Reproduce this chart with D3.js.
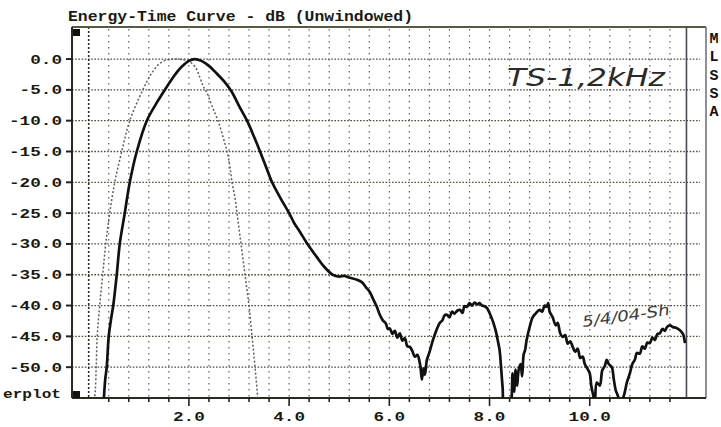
<!DOCTYPE html>
<html>
<head>
<meta charset="utf-8">
<script src="https://cdn.jsdelivr.net/npm/d3@7"></script>
<style>
  body { margin: 0; background: #fff; }
  svg { display: block; }
</style>
</head>
<body>
<svg></svg>
<script>
const width = 721;
const height = 427;
let svg = d3.select("svg").attr("width", width).attr("height", height);

// measured ETC (solid) and the reference impulse (dotted) : [time ms, dB]
const etcCurve = [
  [0.30,-55.5],[0.33,-52],[0.36,-50],[0.40,-45],[0.45,-42],[0.49,-40],[0.56,-35],[0.62,-30],
  [0.72,-25],[0.82,-20],[0.96,-15],[1.16,-10],[1.35,-7.2],[1.52,-5],[1.70,-2.8],[1.85,-1.3],
  [2.0,-0.3],[2.12,0],[2.25,-0.3],[2.4,-1.1],[2.55,-2.3],[2.7,-3.6],[2.86,-5.4],[3.0,-7.6],
  [3.16,-10],[3.3,-12.6],[3.42,-15],[3.54,-17.5],[3.66,-20],[3.83,-22.6],[4.0,-25],[4.1,-26.6],
  [4.22,-28.1],[4.35,-29.8],[4.55,-32.1],[4.7,-33.7],[4.87,-35.0],[5.0,-35.3],[5.1,-35.2],
  [5.21,-35.5],[5.35,-35.8],[5.45,-36.2],[5.53,-37],[5.61,-37.8],[5.68,-39],[5.75,-40.2],
  [5.81,-41.5],[5.87,-42.4],[5.93,-42.9],[5.97,-43.8],[6.01,-43.7],[6.06,-44.6],[6.11,-44.1],
  [6.16,-45.2],[6.21,-44.5],[6.26,-45.7],[6.31,-45.3],[6.36,-46.6],[6.41,-46.7],[6.46,-47.4],
  [6.51,-48.3],[6.56,-48.0],[6.61,-49.4],[6.63,-50.6],[6.65,-52],[6.68,-50.2],[6.71,-51.2],
  [6.75,-48.8],[6.80,-47.6],[6.87,-45.6],[6.94,-44.0],[7.01,-42.8],[7.06,-42.4],[7.10,-41.6],
  [7.15,-41.5],[7.2,-41.9],[7.25,-41.0],[7.3,-41.3],[7.36,-40.8],[7.41,-40.7],[7.46,-41.2],
  [7.5,-40.1],[7.55,-40.2],[7.6,-39.6],[7.65,-40.0],[7.7,-39.5],[7.75,-39.8],[7.8,-39.6],
  [7.85,-40.0],[7.9,-40.1],[7.95,-40.4],[8.0,-41.2],[8.06,-42.4],[8.12,-44.0],[8.16,-45.5],
  [8.20,-47.2],[8.23,-50],[8.26,-53.2],[8.30,-56.5],[8.40,-57],[8.44,-55],[8.46,-51],[8.49,-54],
  [8.52,-50.4],[8.55,-53],[8.58,-50.5],[8.62,-49.5],[8.65,-51.5],[8.68,-48],[8.71,-47.2],
  [8.74,-45.6],[8.8,-43.5],[8.86,-41.9],[8.92,-41.3],[9.0,-40.7],[9.05,-41.0],[9.1,-40.0],
  [9.14,-40.2],[9.17,-39.6],[9.2,-41.0],[9.26,-41.9],[9.32,-43.2],[9.36,-42.8],[9.41,-44.5],
  [9.46,-45.1],[9.51,-44.8],[9.56,-46.2],[9.61,-45.8],[9.66,-46.7],[9.71,-47.5],[9.76,-47.0],
  [9.81,-48.5],[9.86,-48.3],[9.9,-49.5],[9.95,-50.2],[10.0,-51],[10.03,-53],[10.06,-54.2],
  [10.1,-55.5],[10.14,-52.5],[10.2,-53],[10.25,-50.5],[10.3,-49.8],[10.34,-48.8],[10.38,-49.5],
  [10.44,-50],[10.48,-52],[10.52,-53.8],[10.54,-54.2],[10.6,-55.2],[10.66,-55],[10.7,-54],
  [10.74,-52.5],[10.8,-51],[10.85,-49.5],[10.9,-48.8],[10.94,-47.7],[11.0,-47.8],[11.05,-46.6],
  [11.1,-47.0],[11.15,-46.0],[11.2,-46.1],[11.25,-45.2],[11.3,-45.6],[11.35,-44.6],[11.4,-44.5],
  [11.45,-43.8],[11.5,-44.1],[11.54,-43.5],[11.6,-43.2],[11.66,-43.5],[11.72,-43.6],[11.8,-44],
  [11.86,-44.6],[11.90,-46.1]
];

const refCurve = [
  [0.10,-56],[0.13,-54],[0.15,-50],[0.17,-45],[0.22,-40],[0.28,-35],[0.34,-30],[0.42,-25],
  [0.52,-20],[0.66,-15],[0.82,-10],[1.08,-5],[1.25,-2.4],[1.42,-0.7],[1.58,-0.1],[1.72,0],
  [1.88,-0.1],[1.98,-0.3],[2.12,-1.2],[2.22,-3],[2.28,-4.3],[2.36,-5.5],[2.47,-7.8],[2.58,-10],
  [2.68,-12.6],[2.76,-15],[2.82,-17.5],[2.86,-20],[2.92,-22.5],[2.96,-25],[3.0,-27.5],
  [3.04,-30],[3.08,-32.5],[3.12,-35],[3.16,-37.5],[3.20,-40],[3.26,-45],[3.32,-50],[3.38,-55.5]
];

const yTicks = [0, -5, -10, -15, -20, -25, -30, -35, -40, -45, -50];
const xLabels = [2, 4, 6, 8, 10];
const xGrid = d3.range(1, 30).map(i => +(i * 0.4).toFixed(1));
const sideLetters = ["M", "L", "S", "S", "A"];

const plotLeft = 72, plotRight = 706, plotTop = 27, plotBottom = 398;
const x = d3.scaleLinear().domain([-0.333, 12.32]).range([plotLeft, plotRight]);
const y = d3.scaleLinear().domain([-55, 5.2]).range([plotBottom, plotTop]);
const plotEnd = x(11.93);

const mono = "'Liberation Mono', 'DejaVu Sans Mono', monospace";

// title
svg.append("text").attr("x", 68).attr("y", 21)
  .attr("font-family", mono).attr("font-weight", "bold").attr("font-size", 14)
  .attr("textLength", 345).attr("lengthAdjust", "spacingAndGlyphs").attr("fill", "#1a1a12")
  .text("Energy-Time Curve - dB (Unwindowed)");

// grid
svg.append("g").selectAll("line").data(xGrid).join("line")
  .attr("x1", d => x(d)).attr("x2", d => x(d))
  .attr("y1", plotTop + 2).attr("y2", plotBottom)
  .attr("stroke", "#5f6070").attr("stroke-width", 1.2).attr("stroke-dasharray", "1.5,4.5");

svg.append("g").selectAll("line").data(yTicks).join("line")
  .attr("x1", plotLeft).attr("x2", 700)
  .attr("y1", d => y(d)).attr("y2", d => y(d))
  .attr("stroke", "#4f4f3a").attr("stroke-width", 1.3).attr("stroke-dasharray", "1.6,1.6");

// time zero marker
svg.append("line").attr("x1", x(0)).attr("x2", x(0)).attr("y1", plotTop).attr("y2", plotBottom)
  .attr("stroke", "#2a2a22").attr("stroke-width", 1.6).attr("stroke-dasharray", "2,2");

// frame
const frame = svg.append("g").attr("fill", "none");
frame.append("line").attr("x1", plotLeft).attr("x2", plotRight).attr("y1", plotTop).attr("y2", plotTop)
  .attr("stroke", "#5a5a40").attr("stroke-width", 2);
frame.append("line").attr("x1", plotRight).attr("x2", plotRight).attr("y1", plotTop).attr("y2", plotBottom)
  .attr("stroke", "#6a6a80").attr("stroke-width", 1.5);
frame.append("line").attr("x1", plotEnd).attr("x2", plotEnd).attr("y1", plotTop).attr("y2", plotBottom)
  .attr("stroke", "#4a4a55").attr("stroke-width", 1.6);
frame.append("line").attr("x1", plotLeft).attr("x2", plotLeft).attr("y1", plotTop).attr("y2", plotBottom)
  .attr("stroke", "#2a2a20").attr("stroke-width", 2);
frame.append("line").attr("x1", plotLeft).attr("x2", plotRight).attr("y1", plotBottom).attr("y2", plotBottom)
  .attr("stroke", "#2a2a20").attr("stroke-width", 2);

// corner marks
svg.append("rect").attr("x", plotLeft + 1).attr("y", plotTop + 2).attr("width", 7).attr("height", 7).attr("fill", "#111");
svg.append("rect").attr("x", plotLeft + 1).attr("y", plotBottom - 7).attr("width", 7).attr("height", 7).attr("fill", "#111");

// ticks
svg.append("g").selectAll("line").data(yTicks).join("line")
  .attr("x1", plotLeft - 6).attr("x2", plotLeft).attr("y1", d => y(d)).attr("y2", d => y(d))
  .attr("stroke", "#222").attr("stroke-width", 2);
svg.append("g").selectAll("line").data(xGrid).join("line")
  .attr("x1", d => x(d)).attr("x2", d => x(d))
  .attr("y1", plotBottom).attr("y2", d => xLabels.includes(d) ? plotBottom + 8 : plotBottom + 4)
  .attr("stroke", "#222").attr("stroke-width", 1.6);

// tick labels
svg.append("g").selectAll("text").data(yTicks).join("text")
  .attr("x", 62).attr("y", d => y(d) + 4.5).attr("text-anchor", "end")
  .attr("font-family", mono).attr("font-weight", "bold").attr("font-size", 13)
  .attr("fill", "#1a1a12")
  .attr("textLength", d => d.toFixed(1).length * 10.6).attr("lengthAdjust", "spacingAndGlyphs")
  .text(d => d.toFixed(1));

svg.append("g").selectAll("text").data(xLabels).join("text")
  .attr("x", d => x(d)).attr("y", 421).attr("text-anchor", "middle")
  .attr("font-family", mono).attr("font-weight", "bold").attr("font-size", 13)
  .attr("fill", "#1a1a12")
  .attr("textLength", d => d.toFixed(1).length * 10.6).attr("lengthAdjust", "spacingAndGlyphs")
  .text(d => d.toFixed(1));

svg.append("text").attr("x", 3).attr("y", 398)
  .attr("font-family", mono).attr("font-weight", "bold").attr("font-size", 13)
  .attr("fill", "#1a1a12").attr("textLength", 58).attr("lengthAdjust", "spacingAndGlyphs")
  .text("erplot");

svg.append("g").selectAll("text").data(sideLetters).join("text")
  .attr("x", 714).attr("y", (d, i) => 43 + i * 18.3).attr("text-anchor", "middle")
  .attr("font-family", mono).attr("font-weight", "bold").attr("font-size", 15)
  .attr("fill", "#111").text(d => d);

// curves
svg.append("clipPath").attr("id", "plotClip").append("rect")
  .attr("x", plotLeft).attr("y", plotTop).attr("width", plotEnd - plotLeft).attr("height", plotBottom - plotTop);

const line = d3.line().x(d => x(d[0])).y(d => y(d[1])).curve(d3.curveCatmullRom.alpha(0.5));
const curves = svg.append("g").attr("clip-path", "url(#plotClip)");
curves.append("path").attr("d", line(refCurve)).attr("fill", "none")
  .attr("stroke", "#5e5e5e").attr("stroke-width", 1.5).attr("stroke-dasharray", "2,2");
curves.append("path").attr("d", line(etcCurve)).attr("fill", "none")
  .attr("stroke", "#111").attr("stroke-width", 2.7).attr("stroke-linejoin", "round");

// handwritten notes
svg.append("text").attr("x", 507).attr("y", 86)
  .attr("font-family", "'DejaVu Sans'").attr("font-weight", 200).attr("font-style", "italic")
  .attr("font-size", 24).attr("fill", "#2a2a2a")
  .attr("textLength", 158).attr("lengthAdjust", "spacingAndGlyphs")
  .text("TS-1,2kHz");
svg.append("text").attr("transform", "translate(583,327) rotate(-8)")
  .attr("font-family", "'DejaVu Sans'").attr("font-weight", 200).attr("font-style", "italic")
  .attr("font-size", 15).attr("fill", "#3a3a3a")
  .attr("textLength", 88).attr("lengthAdjust", "spacingAndGlyphs")
  .text("5/4/04-Sh");
</script>
</body>
</html>
